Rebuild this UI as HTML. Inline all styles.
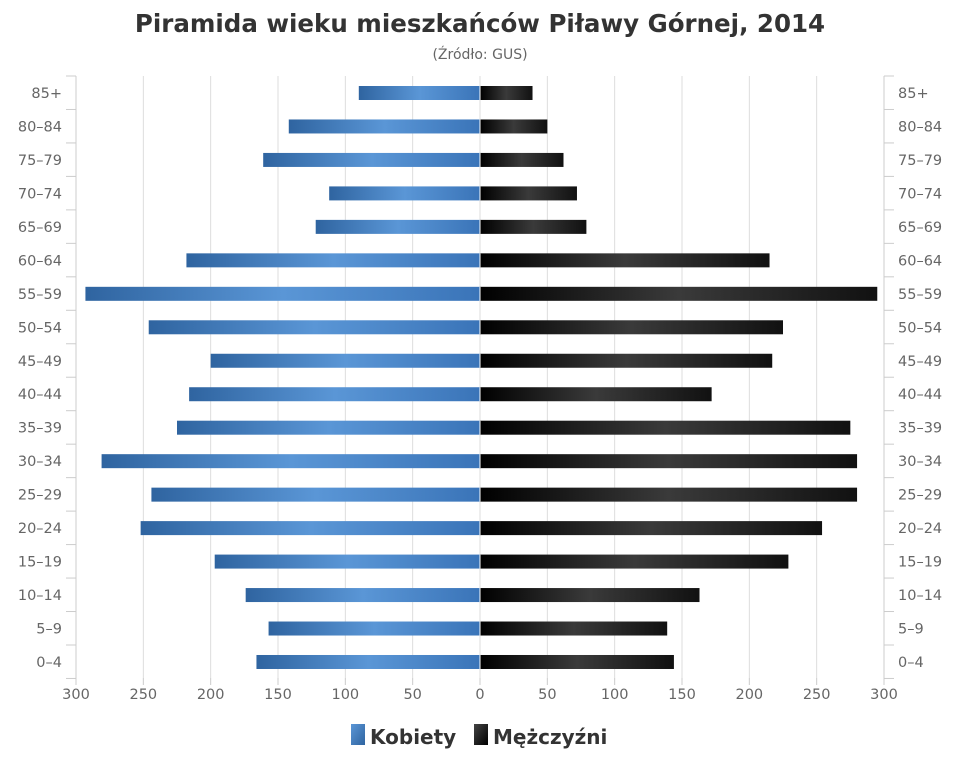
<!DOCTYPE html>
<html><head><meta charset="utf-8"><style>body{margin:0;background:#fff}svg{display:block}text{font-family:"DejaVu Sans","Liberation Sans",sans-serif}</style></head>
<body>
<svg width="960" height="768" xmlns="http://www.w3.org/2000/svg">
<defs>
<linearGradient id="b" x1="0" y1="0" x2="1" y2="0"><stop offset="0" stop-color="#2f64a0"/><stop offset="0.5" stop-color="#5a96d6"/><stop offset="1" stop-color="#3a74b8"/></linearGradient>
<linearGradient id="k" x1="0" y1="0" x2="1" y2="0"><stop offset="0" stop-color="#000"/><stop offset="0.5" stop-color="#3a3a3a"/><stop offset="1" stop-color="#111"/></linearGradient>
<linearGradient id="bl" x1="0" y1="0" x2="1" y2="1"><stop offset="0" stop-color="#5a96d6"/><stop offset="1" stop-color="#2f64a0"/></linearGradient>
<linearGradient id="kl" x1="0" y1="0" x2="1" y2="1"><stop offset="0" stop-color="#444"/><stop offset="1" stop-color="#000"/></linearGradient>
</defs>
<text x="480" y="32" text-anchor="middle" font-size="24.5" font-weight="bold" fill="#333">Piramida wieku mieszkańców Piławy Górnej, 2014</text>
<text x="480" y="59" text-anchor="middle" font-size="14" fill="#666">(Źródło: GUS)</text>
<g id="g"></g>
</svg>
<script>
(function(){
const g=document.getElementById('g');let h='';
const cats=['85+','80-84','75-79','70-74','65-69','60-64','55-59','50-54','45-49','40-44','35-39','30-34','25-29','20-24','15-19','10-14','5-9','0-4'];
const W=[90,142,161,112,122,218,293,246,200,216,225,281,244,252,197,174,157,166];
const M=[39,50,62,72,79,215,295,225,217,172,275,280,280,254,229,163,139,144];
const sc=808/600,x0=480,ty=76,st=33.47;
for(let v=-300;v<=300;v+=50){const x=x0+v*sc;h+=`<line x1="${x}" y1="${ty}" x2="${x}" y2="678" stroke="#ddd"/>`;h+=`<line x1="${x}" y1="678" x2="${x}" y2="685" stroke="#ccc"/>`;h+=`<text x="${x}" y="699" text-anchor="middle" font-size="14.5" fill="#666">${Math.abs(v)}</text>`;}
h+=`<line x1="76" y1="${ty}" x2="76" y2="678" stroke="#ccc"/><line x1="884" y1="${ty}" x2="884" y2="678" stroke="#ccc"/>`;
for(let k=0;k<=18;k++){const y=ty+k*st;h+=`<line x1="66" y1="${y}" x2="76" y2="${y}" stroke="#ccc"/><line x1="884" y1="${y}" x2="894" y2="${y}" stroke="#ccc"/>`;}
cats.forEach((c,i)=>{const y=93+i*st;const l=c.replace('-','–');
h+=`<text x="62" y="${y+5}" text-anchor="end" font-size="14.5" fill="#666">${l}</text><text x="898" y="${y+5}" font-size="14.5" fill="#666">${l}</text>`;
const wl=W[i]*sc,ml=M[i]*sc;
h+=`<rect x="${x0-wl}" y="${y-7}" width="${wl}" height="14" fill="url(#b)"/><rect x="${x0}" y="${y-7}" width="${ml}" height="14" fill="url(#k)"/><line x1="480" y1="${y-7}" x2="480" y2="${y+7}" stroke="#fff"/>`;});
h+=`<rect x="351" y="724" width="14" height="21" fill="url(#bl)"/><text x="370" y="744" font-size="20" font-weight="bold" fill="#333">Kobiety</text>`;
h+=`<rect x="474" y="724" width="14" height="21" fill="url(#kl)"/><text x="493" y="744" font-size="20" font-weight="bold" fill="#333">Mężczyźni</text>`;
g.innerHTML=h;
})();
</script>
</body></html>
